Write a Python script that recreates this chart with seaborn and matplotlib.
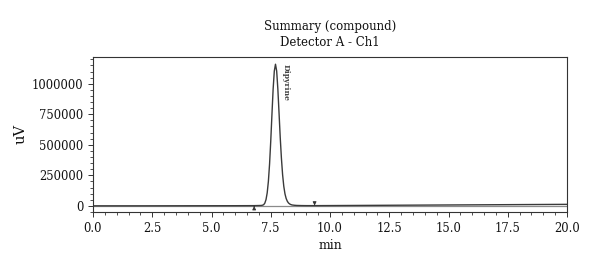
import matplotlib
matplotlib.use("Agg")
import matplotlib.pyplot as plt
import pandas as pd
import seaborn as sns
from matplotlib.ticker import FormatStrFormatter, MultipleLocator

# chromatogram (min, uV)
time_min = [0.0, 2.0, 4.0, 6.0, 6.8, 7.0, 7.1, 7.15, 7.2, 7.25, 7.3, 7.35,
            7.4, 7.45, 7.5, 7.55, 7.6, 7.65, 7.7, 7.75, 7.8, 7.85, 7.9, 7.95,
            8.0, 8.05, 8.1, 8.15, 8.2, 8.25, 8.3, 8.35, 8.4, 8.5, 8.6, 8.8,
            9.0, 9.4, 10.0, 12.0, 14.0, 16.0, 18.0, 20.0]
signal_uv = [0, 0, 500, 1000, 1500, 2500, 3000, 5000, 9000, 22000, 51000,
             106000, 200000, 342000, 531000, 747000, 955000, 1104000, 1160000,
             1104000, 955000, 760000, 560000, 390000, 255000, 160000, 98000,
             60000, 37000, 23000, 15000, 10000, 7000, 4500, 3000, 2000, 1500,
             1500, 2000, 4000, 6000, 8000, 10000, 12000]

peak_name = "Dipyrine"
peak_label_at = (8.12, 1010000)
integration_start = 6.8
integration_end = 9.35

df = pd.DataFrame({"min": time_min, "uV": signal_uv})

sns.set_theme(style="ticks")
plt.rcParams["font.family"] = ["DejaVu Serif"]

fig = plt.figure(figsize=(6.0, 2.71), dpi=100)
ax = fig.add_axes([0.155, 0.218, 0.79, 0.572])

ax.axhline(0, color="#8a8a8a", lw=0.9, zorder=1)
sns.lineplot(data=df, x="min", y="uV", ax=ax, color="#3a3a3a", lw=1.0,
             zorder=2)

# integration markers
ax.annotate("", xy=(integration_start, -2000), xytext=(integration_start, -25000),
            arrowprops=dict(arrowstyle="-|>", color="#333333", lw=0.7,
                            mutation_scale=5))
ax.annotate("", xy=(integration_end, 2000), xytext=(integration_end, 25000),
            arrowprops=dict(arrowstyle="-|>", color="#333333", lw=0.7,
                            mutation_scale=5))
ax.text(peak_label_at[0], peak_label_at[1], peak_name, rotation=-90,
        fontsize=5.5, fontweight="bold", color="#444444", ha="center",
        va="center")

ax.set_xlim(0, 20)
ax.set_ylim(-50000, 1220000)
ax.xaxis.set_major_locator(MultipleLocator(2.5))
ax.xaxis.set_minor_locator(MultipleLocator(0.5))
ax.yaxis.set_major_locator(MultipleLocator(250000))
ax.yaxis.set_minor_locator(MultipleLocator(50000))
ax.xaxis.set_major_formatter(FormatStrFormatter("%.1f"))
ax.yaxis.set_major_formatter(FormatStrFormatter("%d"))
ax.tick_params(axis="both", which="major", length=3.5, width=0.7,
               labelsize=8.3, color="#333333", labelcolor="#111111")
ax.tick_params(axis="both", which="minor", length=2, width=0.6,
               color="#333333")
for s in ax.spines.values():
    s.set_linewidth(0.8)
    s.set_color("#333333")
    s.set_visible(True)

ax.set_xlabel("min", fontsize=9, labelpad=3, color="#111111")
ax.set_ylabel("uV", fontsize=10.5, labelpad=3, color="#111111")
ax.set_title("Summary (compound)\nDetector A - Ch1", fontsize=8.5,
             linespacing=1.3, pad=8, color="#111111")

fig.savefig("out.png", dpi=100)
